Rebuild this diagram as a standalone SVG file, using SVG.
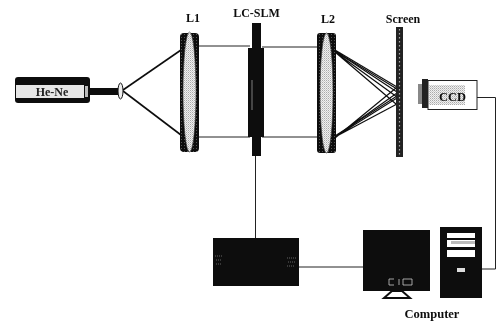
<svg xmlns="http://www.w3.org/2000/svg" width="497" height="321" viewBox="0 0 497 321">
<style>
.lbl{font-family:"Liberation Serif",serif;font-weight:bold;font-size:12px;fill:#111;text-anchor:middle}
.w{fill:none;stroke:#222;stroke-width:1}
.r{fill:none;stroke:#111;stroke-width:1.2}
.lens{fill:url(#dither);stroke:#333;stroke-width:.6}
</style>
<defs>
<pattern id="dither" width="2" height="2" patternUnits="userSpaceOnUse"><rect width="2" height="2" fill="#f0f0f0"/><rect width="1" height="1" fill="#aaa"/><rect x="1" y="1" width="1" height="1" fill="#ccc"/></pattern>
<pattern id="dark" width="3" height="3" patternUnits="userSpaceOnUse"><rect width="3" height="3" fill="#0c0c0c"/><rect x="1" y="1" width="1" height="1" fill="#555"/></pattern>
<filter id="soft" x="0" y="0" width="100%" height="100%"><feGaussianBlur stdDeviation=".35"/></filter>
</defs>
<rect width="497" height="321" fill="#fff"/>
<g filter="url(#soft)">
<g id="connectors">
<path class="w" d="M198 46H250M198 137H250M262 47H318M262 137H318"/>
<path class="r" style="stroke-width:1.600" d="M123 90L181 50M123 91L181 135"/>
<path class="r" d="M335 50L397 87M335 51L397 92M335 52L397 97M335 52L396 104M335 138L396 88M335 137L397 93M335 137L397 98M335 137L397 104"/>
<path class="r" d="M335 51L397 89M335 136L397 96"/>
<path class="w" d="M255.500 156V238M299 267H364M477 97.500H495.500V269H481"/>
</g>
<g id="laser">
<rect x="15" y="77" width="75" height="26" rx="3" fill="#111"/>
<rect x="16" y="85" width="68" height="13" fill="#e6e6e6"/>
<rect x="85" y="86" width="3" height="11" fill="#bbb"/>
<text x="52" y="96" style="font-family:'Liberation Serif',serif;font-weight:bold;font-size:12px;fill:#222;text-anchor:middle">He-Ne</text>
<rect x="90" y="88" width="29" height="7" fill="#111"/>
</g>
<g id="pinhole"><ellipse cx="120.500" cy="91" rx="2.500" ry="8" fill="#eee" stroke="#111"/></g>
<g id="L1">
<rect x="180" y="33" width="19" height="119" rx="4" fill="url(#dark)"/>
<ellipse cx="189.500" cy="92" rx="6.500" ry="60" class="lens"/>
<text x="193" y="22" class="lbl">L1</text>
</g>
<g id="LC-SLM">
<rect x="252" y="23" width="9" height="133" fill="#111"/>
<rect x="248" y="48" width="16" height="89" fill="#0a0a0a"/>
<rect x="251" y="80" width="2" height="30" fill="#444"/>
<text x="256.500" y="17" class="lbl">LC-SLM</text>
</g>
<g id="L2">
<rect x="317" y="33" width="19" height="120" rx="3" fill="url(#dark)"/>
<ellipse cx="326.500" cy="93" rx="6.500" ry="60" class="lens"/>
<text x="328" y="23" class="lbl">L2</text>
</g>
<g id="Screen">
<rect x="396" y="27" width="7" height="130" fill="#222"/>
<path d="M399.500 29V155" stroke="#aaa" stroke-width="1.200" stroke-dasharray="1.500 2.500"/>
<text x="403" y="23" class="lbl">Screen</text>
</g>
<g id="CCD">
<rect x="418" y="84" width="5" height="20" fill="#888"/>
<rect x="422" y="79" width="6" height="29" fill="#222"/>
<rect x="428" y="80.500" width="49" height="29" fill="#fff" stroke="#222"/>
<rect x="429" y="85" width="36" height="20" fill="url(#dither)"/>
<text x="452.500" y="101" class="lbl" style="font-size:12.500px">CCD</text>
</g>
<g id="controller">
<rect x="213" y="238" width="86" height="48" fill="#0a0a0a"/>
<path d="M215 256H222M216 260H221M216 264H222M287 258H296M288 262H295M287 266H295" stroke="#666" stroke-width="1" stroke-dasharray="1 1"/>
</g>
<g id="monitor">
<rect x="363" y="230" width="67" height="61" fill="#0a0a0a"/>
<path d="M384 298L392 291H402L410 298Z" fill="#fff" stroke="#111" stroke-width="2"/>
<path d="M389 279H394M389 285H394M389 279V285M403 279H412M403 285H412M412 279V285M399 279V285M403 279V285" fill="none" stroke="#bbb" stroke-width=".9"/>
</g>
<g id="tower">
<rect x="440" y="227" width="42" height="71" fill="#0a0a0a"/>
<rect x="447" y="233" width="28" height="24" fill="#fff"/>
<rect x="447" y="238" width="28" height="2" fill="#0a0a0a"/>
<rect x="451" y="241" width="24" height="3" fill="#bbb"/>
<rect x="447" y="247" width="28" height="3" fill="#0a0a0a"/>
<rect x="457" y="268" width="8" height="4" fill="#ddd"/>
</g>
<text x="432" y="317.500" class="lbl" style="font-size:12.500px">Computer</text>
</g>
</svg>
